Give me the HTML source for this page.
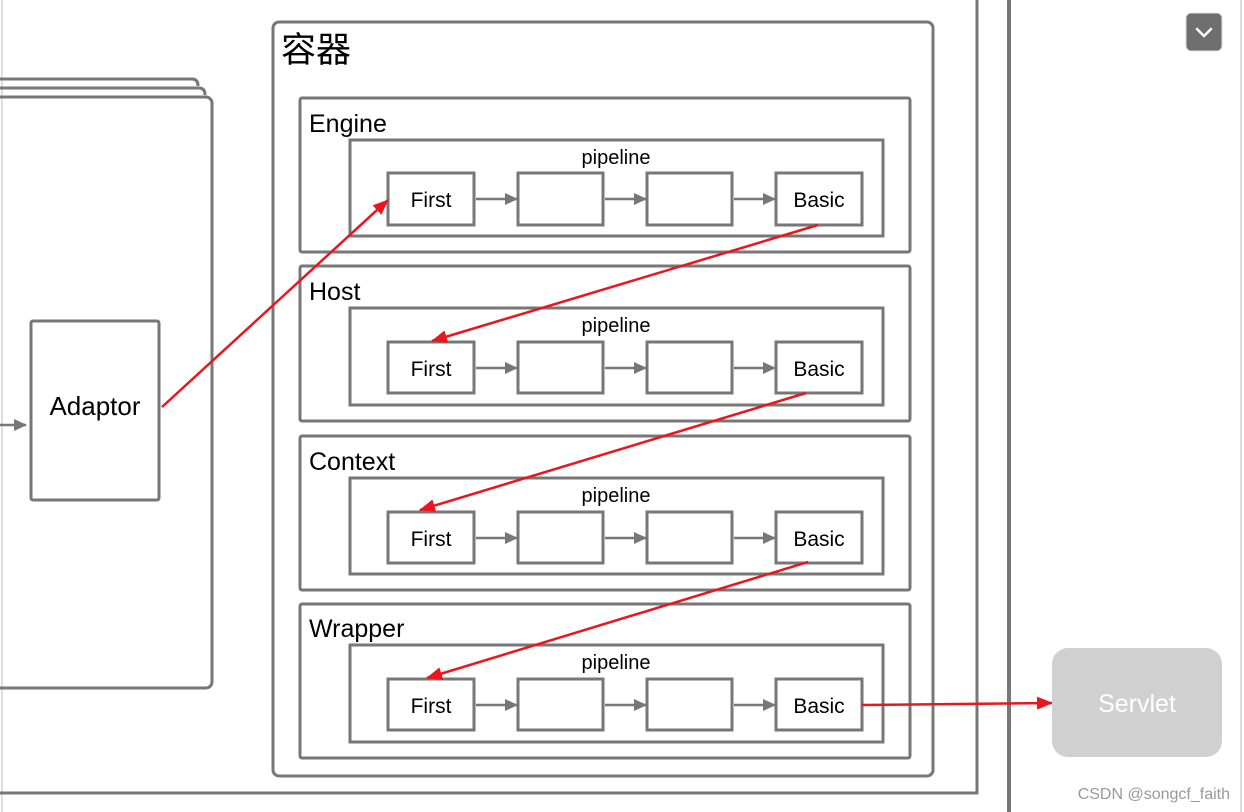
<!DOCTYPE html>
<html><head><meta charset="utf-8"><style>
html,body{margin:0;padding:0;background:#fff;}
svg{display:block;}
text{font-family:"Liberation Sans","Noto Sans CJK SC",sans-serif;}
</style></head><body>
<svg width="1244" height="812" viewBox="0 0 1244 812" xmlns="http://www.w3.org/2000/svg">
<defs>
<marker id="ga" markerWidth="13" markerHeight="12" refX="12" refY="6" orient="auto" markerUnits="userSpaceOnUse"><path d="M0,0 L13,6 L0,12 z" fill="#777"/></marker>
<marker id="ra" markerWidth="16" markerHeight="13" refX="15" refY="6.5" orient="auto" markerUnits="userSpaceOnUse"><path d="M0,0 L16,6.5 L0,13 z" fill="#e8161e"/></marker>
</defs>
<line x1="2" y1="0" x2="2" y2="812" stroke="#ddd" stroke-width="2"/>
<line x1="1241" y1="0" x2="1241" y2="812" stroke="#ddd" stroke-width="2"/>
<g fill="none" stroke="#777" stroke-width="3">
<path d="M-10,79 H192 Q198,79 198,86"/>
<path d="M-10,88 H199 Q205,88 205,95"/>
<rect x="-10" y="97" width="222" height="591" rx="6"/>
<rect x="31" y="321" width="128" height="179" rx="2"/>
<path d="M-10,3 V793 H977 V-10"/>
<line x1="1009" y1="0" x2="1009" y2="812" stroke-width="4"/>
<rect x="273" y="22" width="660" height="754" rx="6"/>
</g>
<line x1="0" y1="425" x2="26" y2="425" stroke="#777" stroke-width="2.5" marker-end="url(#ga)"/>
<text x="95" y="415" font-size="26" text-anchor="middle" fill="#000">Adaptor</text>
<text x="281" y="62" font-size="35" fill="#000">容器</text>

<g fill="none" stroke="#777" stroke-width="3">
<rect x="300" y="98" width="610" height="154" rx="2"/>
<rect x="300" y="266" width="610" height="155" rx="2"/>
<rect x="300" y="436" width="610" height="154" rx="2"/>
<rect x="300" y="604" width="610" height="154" rx="2"/>
<rect x="350" y="140" width="533" height="96"/>
<rect x="350" y="308" width="533" height="97"/>
<rect x="350" y="478" width="533" height="96"/>
<rect x="350" y="645" width="533" height="97"/>
</g>
<g font-size="25" fill="#000">
<text x="309" y="132">Engine</text>
<text x="309" y="300">Host</text>
<text x="309" y="470">Context</text>
<text x="309" y="637">Wrapper</text>
</g>
<g font-size="20" fill="#000" text-anchor="middle">
<text x="616" y="164">pipeline</text>
<text x="616" y="332">pipeline</text>
<text x="616" y="502">pipeline</text>
<text x="616" y="669">pipeline</text>
</g>
<g fill="none" stroke="#777" stroke-width="3">
<rect x="388" y="173" width="86" height="52"/><rect x="518" y="173" width="85" height="52"/><rect x="647" y="173" width="85" height="52"/><rect x="776" y="173" width="86" height="52"/>
<rect x="388" y="342" width="86" height="51"/><rect x="518" y="342" width="85" height="51"/><rect x="647" y="342" width="85" height="51"/><rect x="776" y="342" width="86" height="51"/>
<rect x="388" y="512" width="86" height="51"/><rect x="518" y="512" width="85" height="51"/><rect x="647" y="512" width="85" height="51"/><rect x="776" y="512" width="86" height="51"/>
<rect x="388" y="679" width="86" height="51"/><rect x="518" y="679" width="85" height="51"/><rect x="647" y="679" width="85" height="51"/><rect x="776" y="679" width="86" height="51"/>
</g>
<g stroke="#777" stroke-width="2.5" marker-end="url(#ga)">
<line x1="476" y1="199" x2="517" y2="199"/><line x1="605" y1="199" x2="646" y2="199"/><line x1="734" y1="199" x2="775" y2="199"/>
<line x1="476" y1="368" x2="517" y2="368"/><line x1="605" y1="368" x2="646" y2="368"/><line x1="734" y1="368" x2="775" y2="368"/>
<line x1="476" y1="538" x2="517" y2="538"/><line x1="605" y1="538" x2="646" y2="538"/><line x1="734" y1="538" x2="775" y2="538"/>
<line x1="476" y1="705" x2="517" y2="705"/><line x1="605" y1="705" x2="646" y2="705"/><line x1="734" y1="705" x2="775" y2="705"/>
</g>
<g font-size="21" fill="#000" text-anchor="middle">
<text x="431" y="207">First</text><text x="819" y="207">Basic</text>
<text x="431" y="376">First</text><text x="819" y="376">Basic</text>
<text x="431" y="546">First</text><text x="819" y="546">Basic</text>
<text x="431" y="713">First</text><text x="819" y="713">Basic</text>
</g>
<g stroke="#e8161e" stroke-width="2.5" fill="none" marker-end="url(#ra)">
<line x1="162" y1="407" x2="388" y2="200"/>
<line x1="818" y1="225" x2="432" y2="341"/>
<line x1="806" y1="393" x2="420" y2="510"/>
<line x1="808" y1="562" x2="427" y2="678"/>
<line x1="862" y1="705" x2="1052" y2="703"/>
</g>
<rect x="1052" y="648" width="170" height="109" rx="16" fill="#d0d0d0"/>
<text x="1137" y="712" font-size="25" fill="#fff" text-anchor="middle">Servlet</text>
<rect x="1186" y="13" width="36" height="38" rx="5" fill="#6e6e6e" stroke="#ddd" stroke-width="1"/>
<path d="M1197,29 L1204,36 L1211,29" fill="none" stroke="#fff" stroke-width="2.5" stroke-linecap="round"/>
<text x="1230" y="799" font-size="16" fill="#999" text-anchor="end">CSDN @songcf_faith</text>
</svg>
</body></html>
